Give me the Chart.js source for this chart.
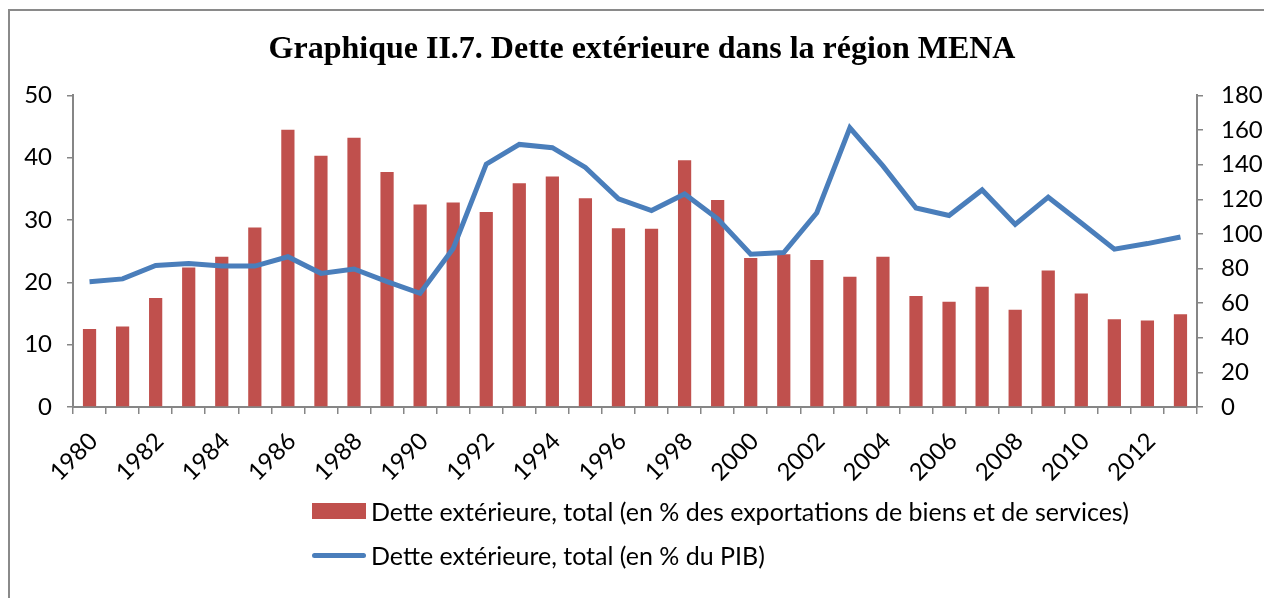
<!DOCTYPE html>
<html lang="fr">
<head>
  <meta charset="UTF-8">
  <title>Dette extérieure MENA</title>
  <script src="https://cdn.jsdelivr.net/npm/chart.js"></script>
  <style>
    body { margin: 0; background: #fff; }
    .wrap { position: relative; width: 1264px; height: 598px; overflow: hidden; }
    .frame { position: absolute; left: 8px; top: 9px; width: 1400px; height: 700px; border-left: 2px solid #8a8a8a; border-top: 2px solid #8a8a8a; }
    canvas { position: absolute; left: 0; top: 0; }
    .legend { position: absolute; left: 312px; top: 496px; font-family: Lato, "Open Sans", sans-serif; font-size: 25px; color: #000; }
    .legend-item { display: flex; align-items: center; height: 30px; margin-bottom: 14px; }
    .legend-mark { width: 54px; margin-right: 5px; }
  </style>
</head>
<body>
  <div class="wrap">
    <div class="frame"></div>
    <canvas id="chart" width="1264" height="598"></canvas>
    <div class="legend" id="legend"></div>
  </div>
  <script>
    // données
    const years = [];
    for (let y = 1980; y <= 2013; y++) years.push(String(y));

    const detteExport = [12.5, 12.9, 17.5, 22.4, 24.1, 28.8, 44.5, 40.3, 43.2, 37.7,
      32.5, 32.8, 31.3, 35.9, 37.0, 33.5, 28.7, 28.6, 39.6, 33.2,
      23.9, 24.5, 23.6, 20.9, 24.1, 17.8, 16.9, 19.3, 15.6, 21.9,
      18.2, 14.1, 13.9, 14.9];

    const dettePib = [72.4, 74.0, 81.8, 82.9, 81.4, 81.4, 86.8, 77.2, 79.7, 72.4,
      65.7, 91.5, 140.3, 151.7, 149.8, 138.4, 120.2, 113.5, 123.1, 108.7,
      88.3, 89.2, 112.2, 161.3, 139.3, 115.0, 110.6, 125.4, 105.5, 121.2,
      106.3, 91.2, 94.4, 98.2];

    const labelExport = 'Dette extérieure, total (en % des exportations de biens et de services)';
    const labelPib = 'Dette extérieure, total (en % du PIB)';

    const font = 'Lato, "Open Sans", sans-serif';
    const axisColor = '#868686';

    const chart = new Chart(document.getElementById('chart'), {
      type: 'bar',
      data: {
        labels: years,
        datasets: [
          {
            type: 'line',
            label: labelPib,
            data: dettePib,
            yAxisID: 'y1',
            borderColor: '#4A7EBB',
            backgroundColor: '#4A7EBB',
            borderWidth: 5,
            pointRadius: 0,
            tension: 0,
            order: 0
          },
          {
            type: 'bar',
            label: labelExport,
            data: detteExport,
            yAxisID: 'y',
            backgroundColor: '#C0504D',
            barPercentage: 0.4,
            categoryPercentage: 1,
            order: 1
          }
        ]
      },
      options: {
        responsive: false,
        animation: false,
        layout: { padding: { top: 31, left: 20, right: 0, bottom: 0 } },
        plugins: {
          legend: { display: false },
          tooltip: { enabled: false },
          title: {
            display: true,
            text: 'Graphique II.7. Dette extérieure dans la région MENA',
            color: '#000',
            font: { family: '"Liberation Serif", "Times New Roman", serif', size: 32, weight: 'bold', lineHeight: 1.2 },
            padding: { top: 0, bottom: 26 }
          }
        },
        scales: {
          x: {
            grid: { drawOnChartArea: false, drawTicks: true, tickLength: 7, color: axisColor, lineWidth: 1.5, offset: true },
            border: { color: axisColor, width: 2 },
            ticks: {
              autoSkip: false,
              minRotation: 45,
              maxRotation: 45,
              padding: 13,
              labelOffset: 4,
              color: '#000',
              font: { family: font, size: 24 },
              callback: function(value, index) {
                return index % 2 === 0 ? this.getLabelForValue(value) : '';
              }
            },
            afterFit: function(scale) { scale.height = 191; }
          },
          y: {
            position: 'left',
            min: 0,
            max: 50,
            grid: { drawOnChartArea: false, drawTicks: true, tickLength: 6, color: axisColor, lineWidth: 1.5 },
            border: { color: axisColor, width: 2 },
            ticks: { stepSize: 10, padding: 15, color: '#000', font: { family: font, size: 24 } },
            afterFit: function(scale) { scale.width = 53; }
          },
          y1: {
            position: 'right',
            min: 0,
            max: 180,
            grid: { drawOnChartArea: false, drawTicks: true, tickLength: 6, color: axisColor, lineWidth: 1.5 },
            border: { color: axisColor, width: 2 },
            ticks: { stepSize: 20, padding: 18, color: '#000', font: { family: font, size: 24 } },
            afterFit: function(scale) { scale.width = 67; }
          }
        }
      }
    });

    // légende verticale, alignée à gauche comme dans l'original
    const legendEl = document.getElementById('legend');
    const order = [1, 0];
    order.forEach(i => {
      const ds = chart.data.datasets[i];
      const item = document.createElement('div');
      item.className = 'legend-item';
      const mark = document.createElement('div');
      mark.className = 'legend-mark';
      if (ds.type === 'bar') {
        mark.style.height = '16px';
        mark.style.background = ds.backgroundColor;
      } else {
        mark.style.height = '5px';
        mark.style.borderRadius = '3px';
        mark.style.background = ds.borderColor;
      }
      const txt = document.createElement('span');
      txt.textContent = ds.label;
      item.appendChild(mark);
      item.appendChild(txt);
      legendEl.appendChild(item);
    });
  </script>
</body>
</html>
